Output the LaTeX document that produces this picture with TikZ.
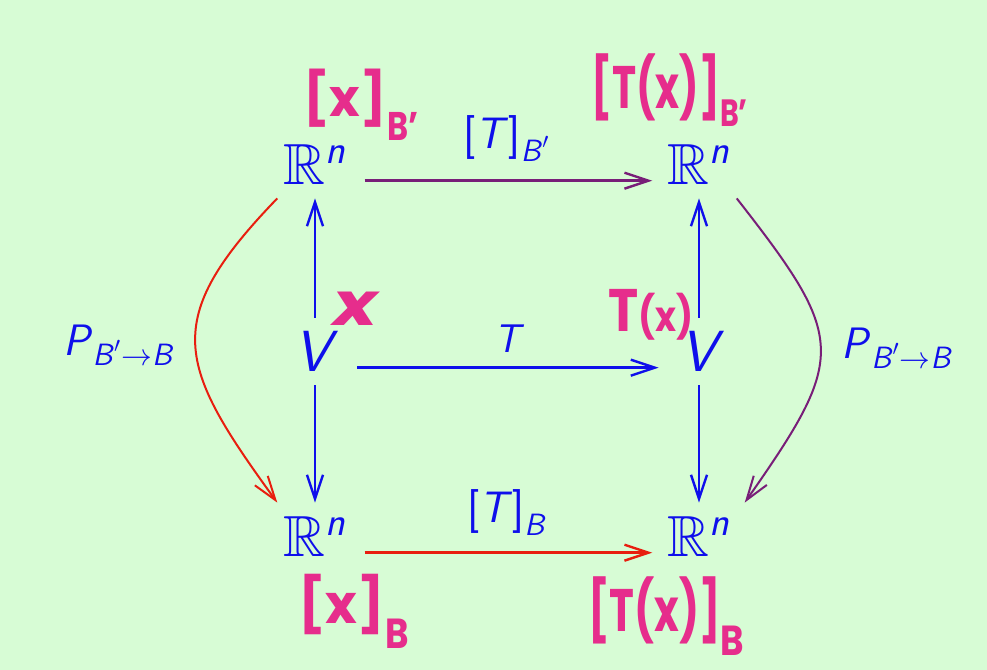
\RequirePackage{fix-cm}
\documentclass[tikz,border=0pt]{standalone}
\usepackage{amsmath}
\usepackage{amssymb}
\usepackage[no-math]{fontspec}
\usepackage{graphicx}
\newfontfamily\handfont{Poppins}
\usetikzlibrary{arrows.meta}

\definecolor{bggreen}{RGB}{215,252,213}
\definecolor{dblue}{RGB}{15,15,235}
\definecolor{dred}{RGB}{232,30,15}
\definecolor{dpurple}{RGB}{120,30,120}
\definecolor{pen}{RGB}{230,45,140}

% sans italic letters inside math
\newcommand{\sfi}[1]{\text{\sffamily\itshape #1\/}}
\newcommand{\sfb}[1]{\text{\sffamily #1}}
% squeezed marker writing
\newcommand{\scrawl}[3]{\fontsize{#1}{#1}\selectfont\scalebox{#2}[1]{#3}}

\begin{document}
\begin{tikzpicture}[x=0.5pt, y=0.5pt,
    space/.style={text=dblue, font=\fontsize{29}{32}\selectfont, inner sep=3pt,
      text height=24pt, text depth=3.5pt, anchor=base},
    edgelab/.style={text=dblue, font=\fontsize{22}{26}\selectfont, inner sep=0pt},
    note/.style={text=pen, font=\handfont\bfseries, inner sep=0pt, anchor=base west},
    map/.style={-{Straight Barb[length=12pt,width=8pt]}, line width=1.2pt}]
    \fill[bggreen] (0,0) rectangle (987,670);
    \useasboundingbox (0,0) rectangle (987,670);
    \node [space] (RnTL) at (315,485) {$\mathbb{R}^{\sfi{n}}$};
    \node [space] (RnTR) at (699,485) {$\mathbb{R}^{\sfi{n}}$};
    \node [space] (VL) at (317,298) {$\sfi{V}$};
    \node [space] (VR) at (703,298) {$\sfi{V}$};
    \node [space] (RnBL) at (315,113) {$\mathbb{R}^{\sfi{n}}$};
    \node [space] (RnBR) at (699,113) {$\mathbb{R}^{\sfi{n}}$};
    \draw [map, dpurple, shorten <=6pt, shorten >=4.5pt] (RnTL.mid east) -- node [edgelab, above=9pt] {$\sfb{[}\sfi{T}\sfb{]}_{\sfi{B}'}$} (RnTR.mid west);
    \draw [map, dblue, shorten <=6pt, shorten >=8pt] (VL.mid east) -- node [edgelab, font=\fontsize{20}{24}\selectfont, above=7pt] {$\sfi{T}$} (VR.mid west);
    \draw [map, dred, shorten <=6pt, shorten >=4.5pt] (RnBL.mid east) -- node [edgelab, above=8pt] {$\sfb{[}\sfi{T}\sfb{]}_{\sfi{B}}$} (RnBR.mid west);
    \draw [map, dblue] (VL.north -| RnTL) -- (RnTL.south);
    \draw [map, dblue] (VR.north -| RnTR) -- (RnTR.south);
    \draw [map, dblue] (VL.south -| RnBL) -- (RnBL.north);
    \draw [map, dblue] (VR.south -| RnBR) -- (RnBR.north);
    \draw [map, dred, line width=1pt] (RnTL.south west) .. controls +(226:170) and +(126:170) .. (RnBL.north west)
      node [edgelab, pos=0.5, left=10pt] {$\sfi{P}_{\sfi{B}'\to\sfi{B}}$};
    \draw [map, dpurple, line width=1pt] (RnTR.south east) .. controls +(-52:179) and +(55:179) .. ([xshift=4pt]RnBR.north east)
      node [edgelab, pos=0.5, right=10pt] {$\sfi{P}_{\sfi{B}'\to\sfi{B}}$};
    % handwritten notes
    \node [note] (xTL) at (303,553) {\scrawl{26}{1}{[x]}\raisebox{-12pt}{\scrawl{20}{0.8}{B’}}};
    \node [note] (TxTR) at (591,561) {\scrawl{30}{0.68}{[T(x)]}\raisebox{-9pt}{\scrawl{19}{0.75}{B’}}};
    \node [note] (xVL) at (333,344) {\scrawl{30}{1.25}{\itshape x}};
    \node [note] (TxVR) at (608,338) {\scrawl{30}{0.85}{T}\scrawl{21}{0.85}{(x)}};
    \node [note] (xBL) at (298,46) {\scrawl{27}{1}{[x]}\raisebox{-12pt}{\scrawl{21}{0.85}{B}}};
    \node [note] (TxBR) at (588,38) {\scrawl{30}{0.7}{[T(x)]}\raisebox{-12pt}{\scrawl{21}{0.85}{B}}};
\end{tikzpicture}
\end{document}
